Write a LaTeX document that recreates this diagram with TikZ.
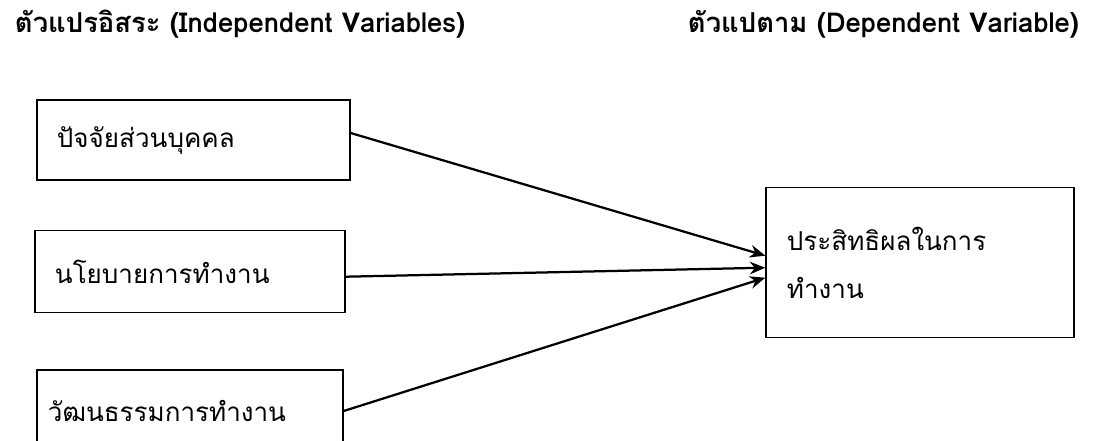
\documentclass[tikz,border=0pt]{standalone}
\usepackage{fontspec}
\setmainfont[Script=Thai]{Loma}
\usetikzlibrary{arrows.meta,positioning,calc}

\begin{document}
\begin{tikzpicture}[x=0.025cm, y=-0.025cm, >={Stealth[length=11pt,width=9pt]},
  every node/.style={align=left},
  headline/.style={anchor=base west, font=\bfseries\fontsize{19.5}{24}\selectfont},
  varbox/.style={rectangle, draw, line width=0.9pt, inner xsep=0.5cm, font=\fontsize{18.5}{34}\selectfont},
  link/.style={->, line width=1.6pt}]
  \useasboundingbox (0,0) rectangle (1114,441);

  \node (indep) [headline] at (10,32) {ตัวแปรอิสระ (Independent Variables)};
  \node (dep) [headline] at (683,32) {ตัวแปตาม (Dependent Variable)};

  \node (personal) [varbox, minimum width=7.825cm, minimum height=2cm, text width=6.825cm] at (193.5,140) {ปัจจัยส่วนบุคคล};
  \node (policy) [varbox, minimum width=7.75cm, minimum height=2.05cm, text width=6.75cm] at (190,271.7) {นโยบายการทำงาน};
  \node (culture) [varbox, inner xsep=0.275cm, minimum width=7.65cm, minimum height=2.05cm, text width=7.1cm] at (190,411) {วัฒนธรรมการทำงาน};
  \node (effect) [varbox, inner xsep=0.525cm, minimum width=7.7cm, minimum height=3.75cm, text width=6.65cm] at (920,262.7) {ประสิทธิผลในการ\\ทำงาน};

  \draw[link] ($(personal.east)+(0,-7)$) -- ($(effect.west)+(0,-7)$);
  \draw[link] ($(policy.east)+(0,5)$) -- ($(effect.west)+(0,5)$);
  \draw[link] (culture.east) -- ($(effect.west)+(0,15)$);
\end{tikzpicture}
\end{document}
